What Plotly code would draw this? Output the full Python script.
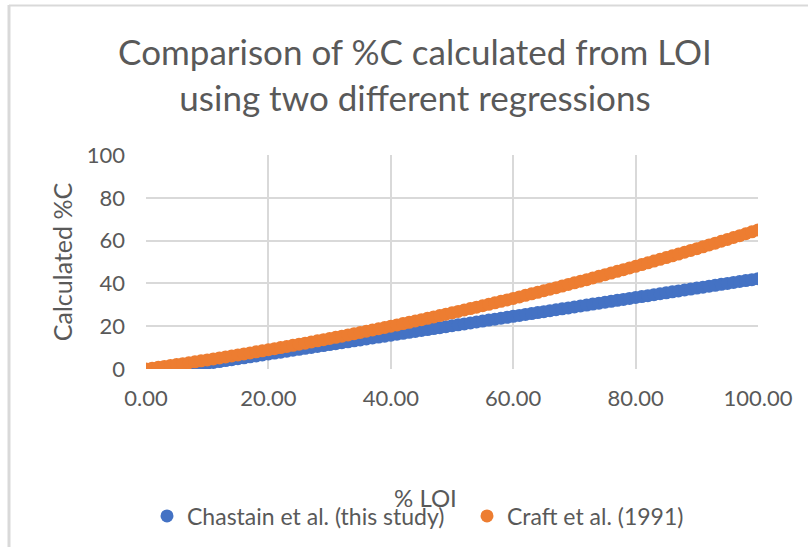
import plotly.graph_objects as go

# ---- data ----
chastain_loi = list(range(4, 101))
chastain_c = [0.00, 0.40, 0.84, 1.28, 1.72, 2.16, 2.60, 3.04, 3.48, 3.92,
              4.36, 4.80, 5.24, 5.68, 6.12, 6.56, 7.00, 7.44, 7.88, 8.32,
              8.76, 9.20, 9.64, 10.08, 10.52, 10.96, 11.40, 11.84, 12.28, 12.72,
              13.16, 13.60, 14.04, 14.48, 14.92, 15.36, 15.80, 16.24, 16.68, 17.12,
              17.56, 18.00, 18.44, 18.88, 19.32, 19.76, 20.20, 20.64, 21.08, 21.52,
              21.96, 22.40, 22.84, 23.28, 23.72, 24.16, 24.60, 25.04, 25.48, 25.92,
              26.36, 26.80, 27.24, 27.68, 28.12, 28.56, 29.00, 29.44, 29.88, 30.32,
              30.76, 31.20, 31.64, 32.08, 32.52, 32.96, 33.40, 33.84, 34.28, 34.72,
              35.16, 35.60, 36.04, 36.48, 36.92, 37.36, 37.80, 38.24, 38.68, 39.12,
              39.56, 40.00, 40.44, 40.88, 41.32, 41.76, 42.20]

craft_loi = list(range(0, 101))
craft_c = [0.00, 0.40, 0.81, 1.22, 1.64, 2.06, 2.49, 2.92, 3.36, 3.80,
           4.25, 4.70, 5.16, 5.62, 6.09, 6.56, 7.04, 7.52, 8.01, 8.50,
           9.00, 9.50, 10.01, 10.52, 11.04, 11.56, 12.09, 12.62, 13.16, 13.70,
           14.25, 14.80, 15.36, 15.92, 16.49, 17.06, 17.64, 18.22, 18.81, 19.40,
           20.00, 20.60, 21.21, 21.82, 22.44, 23.06, 23.69, 24.32, 24.96, 25.60,
           26.25, 26.90, 27.56, 28.22, 28.89, 29.56, 30.24, 30.92, 31.61, 32.30,
           33.00, 33.70, 34.41, 35.12, 35.84, 36.56, 37.29, 38.02, 38.76, 39.50,
           40.25, 41.00, 41.76, 42.52, 43.29, 44.06, 44.84, 45.62, 46.41, 47.20,
           48.00, 48.80, 49.61, 50.42, 51.24, 52.06, 52.89, 53.72, 54.56, 55.40,
           56.25, 57.10, 57.96, 58.82, 59.69, 60.56, 61.44, 62.32, 63.21, 64.10,
           65.00]

series_names = ["Chastain et al. (this study)", "Craft et al. (1991)"]
x_ticks = [0, 20, 40, 60, 80, 100]
x_tick_labels = ["0.00", "20.00", "40.00", "60.00", "80.00", "100.00"]
y_ticks = [0, 20, 40, 60, 80, 100]

title_text = "Comparison of %C calculated from LOI<br>using two different regressions"
x_title = "% LOI"
y_title = "Calculated %C"

# ---- layout constants (pixels) ----
W, H = 808, 547
L, R, T, B = 146, 50, 155, 178
PW, PH = W - L - R, H - T - B
FONT = "Lato, Carlito, Calibri, 'Liberation Sans', sans-serif"
GRAY = "#595959"
GRID = "#d9d9d9"


def px_to_paper_x(px):
    return (px - L) / PW


def px_to_paper_y(py):
    return (H - B - py) / PH


def legend_box(px):
    return dict(orientation="h", xref="container", yref="container",
                x=px / W, xanchor="left",
                y=1 - 516 / H, yanchor="middle",
                font=dict(family=FONT, size=23, color=GRAY),
                itemsizing="trace", bgcolor="rgba(0,0,0,0)")


fig = go.Figure()
fig.add_trace(go.Scatter(x=chastain_loi, y=chastain_c, mode="markers",
                         name=series_names[0], legend="legend",
                         marker=dict(color="#4472C4", size=13, line=dict(width=0))))
fig.add_trace(go.Scatter(x=craft_loi, y=craft_c, mode="markers",
                         name=series_names[1], legend="legend2",
                         marker=dict(color="#ED7D31", size=13, line=dict(width=0))))

fig.update_layout(
    width=W, height=H,
    margin=dict(l=L, r=R, t=T, b=B, autoexpand=False),
    paper_bgcolor="white", plot_bgcolor="white",
    font=dict(family=FONT, color=GRAY, size=22),
    title=dict(text=title_text, x=415 / W, xanchor="center",
               y=1 - 65 / H, yanchor="middle",
               font=dict(family=FONT, size=35, color=GRAY)),
    showlegend=True,
    legend=legend_box(147),
    legend2=legend_box(467),
    xaxis=dict(range=[0, 100], tickvals=x_ticks, ticktext=x_tick_labels,
               showgrid=True, gridcolor=GRID, gridwidth=2,
               zeroline=False, showline=False, ticks="",
               ticklabelstandoff=14,
               tickfont=dict(family=FONT, size=22, color=GRAY)),
    yaxis=dict(range=[0, 100], tickvals=y_ticks,
               showgrid=True, gridcolor=GRID, gridwidth=2,
               zeroline=False, showline=False, ticks="",
               ticklabelstandoff=20,
               title=dict(text=y_title, standoff=6,
                          font=dict(family=FONT, size=25, color=GRAY)),
               tickfont=dict(family=FONT, size=22, color=GRAY)),
    annotations=[dict(text=x_title, xref="paper", yref="paper",
                      x=px_to_paper_x(425), y=px_to_paper_y(497),
                      xanchor="center", yanchor="middle", showarrow=False,
                      font=dict(family=FONT, size=24, color=GRAY))],
    shapes=[
        dict(type="line", xref="paper", yref="paper",
             x0=px_to_paper_x(9), x1=px_to_paper_x(W + 5),
             y0=px_to_paper_y(5.5), y1=px_to_paper_y(5.5),
             line=dict(color=GRID, width=2)),
        dict(type="line", xref="paper", yref="paper",
             x0=px_to_paper_x(9), x1=px_to_paper_x(9),
             y0=px_to_paper_y(5), y1=px_to_paper_y(H + 5),
             line=dict(color=GRID, width=3)),
    ],
)

fig.write_html("out.html",
               config={"displayModeBar": False},
               post_script="document.body.style.margin='0';"
                           "document.body.style.overflow='hidden';")
